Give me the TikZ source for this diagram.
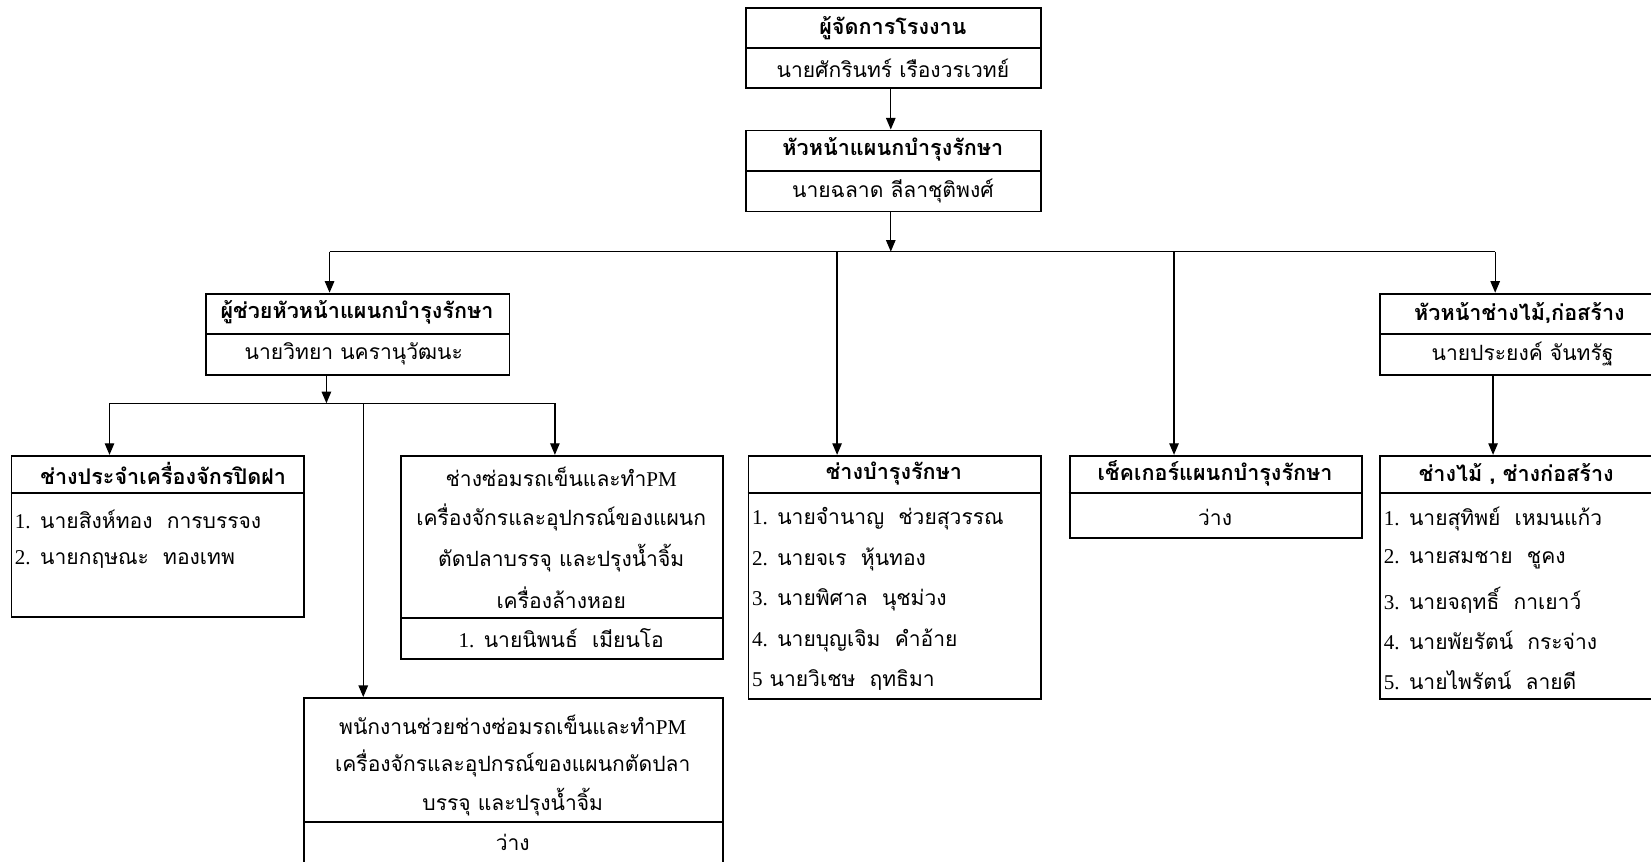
\documentclass[tikz,border=0pt]{standalone}
\usepackage{fontspec}
\setmainfont{Liberation Serif}
\newfontfamily\thai[Script=Thai]{Loma}
\newfontfamily\latf{Liberation Serif}
\usetikzlibrary{arrows.meta}
\newcommand{\thaifs}{\thai\fontsize{20}{24}\selectfont}
\newcommand{\thaihd}{\thai\fontsize{20.5}{24}\selectfont\bfseries}
\newcommand{\lat}[1]{{\latf #1}}
\tikzset{
  box/.style={draw, line width=1.8pt, inner sep=0pt, anchor=north west},
  divl/.style={line width=1.8pt},
  con/.style={line width=1.2pt},
  arr/.style={con, -{Triangle[length=11pt,width=9pt]}},
  hd/.style={font=\thaihd, inner sep=0pt},
  tx/.style={font=\thaifs, inner sep=0pt},
  lt/.style={tx, anchor=west},
}
\begin{document}
\begin{tikzpicture}[x=1pt,y=-1pt]
\useasboundingbox (0,0) rectangle (1568,818);
\clip (0,0) rectangle (1568,818);
\fill[white] (0,0) rectangle (1568,818);

% top boxes
\node[box, minimum width=280pt, minimum height=76pt] (B1) at (708,7) {};
\draw[divl] (708,46) -- (988,46);
\node[hd] (B1h) at (848,27) {ผู้จัดการโรงงาน};
\node[tx] (B1n) at (848,65) {นายศักรินทร์ เรืองวรเวทย์};

\node[box, minimum width=280pt, minimum height=77pt] (B2) at (708,123) {};
\draw[divl] (708,162) -- (988,162);
\node[hd] (B2h) at (848,142) {หัวหน้าแผนกบำรุงรักษา};
\node[tx] (B2n) at (848,181) {นายฉลาด ลีลาชุติพงศ์};

% row 2
\node[box, minimum width=288pt, minimum height=77pt] (L2) at (195,278) {};
\draw[divl] (195,317) -- (483,317);
\node[hd] (L2h) at (339,297) {ผู้ช่วยหัวหน้าแผนกบำรุงรักษา};
\node[tx] (L2n) at (336,336) {นายวิทยา นครานุวัฒนะ};

\node[box, minimum width=280pt, minimum height=77pt] (R2) at (1310,278) {};
\draw[divl] (1310,317) -- (1590,317);
\node[hd] (R2h) at (1443,297) {หัวหน้าช่างไม้,ก่อสร้าง};
\node[tx] (R2n) at (1446,336) {นายประยงค์ จันทรัฐ};

% row 3
\node[box, minimum width=278pt, minimum height=153pt] (A) at (10,432) {};
\draw[divl] (10,468) -- (288,468);
\node[hd] (Ah) at (155,450) {ช่างประจำเครื่องจักรปิดฝา};
\node[lt] (A1) at (14,493) {\lat{1.} นายสิงห์ทอง~~การบรรจง};
\node[lt] (A2) at (14,531) {\lat{2.} นายกฤษณะ~~ทองเทพ};

\node[box, minimum width=306pt, minimum height=193pt] (B) at (380,432) {};
\draw[divl] (380,587) -- (686,587);
\node[tx] (Bt1) at (533,453) {ช่างซ่อมรถเข็นและทำ\lat{PM}};
\node[tx] (Bt2) at (533,491) {เครื่องจักรและอุปกรณ์ของแผนก};
\node[tx] (Bt3) at (533,530) {ตัดปลาบรรจุ และปรุงน้ำจิ้ม};
\node[tx] (Bt4) at (533,568) {เครื่องล้างหอย};
\node[tx] (Bn) at (533,606) {\lat{1.} นายนิพนธ์~~เมียนโอ};

\node[box, minimum width=278pt, minimum height=231pt] (C) at (710,432) {};
\draw[divl] (710,468) -- (988,468);
\node[hd] (Ch) at (849,450) {ช่างบำรุงรักษา};
\node[lt] (C1) at (714,493) {\lat{1.} นายจำนาญ~~ช่วยสุวรรณ};
\node[lt] (C2) at (714,531) {\lat{2.} นายจเร~~หุ้นทอง};
\node[lt] (C3) at (714,570) {\lat{3.} นายพิศาล~~นุชม่วง};
\node[lt] (C4) at (714,608) {\lat{4.} นายบุญเจิม~~คำอ้าย};
\node[lt] (C5) at (714,646) {\lat{5} นายวิเชษ~~ฤทธิมา};

\node[box, minimum width=278pt, minimum height=78pt] (D) at (1015,432) {};
\draw[divl] (1015,468) -- (1293,468);
\node[hd] (Dh) at (1154,450) {เช็คเกอร์แผนกบำรุงรักษา};
\node[tx] (Dn) at (1154,491) {ว่าง};

\node[box, minimum width=280pt, minimum height=231pt] (E) at (1310,432) {};
\draw[divl] (1310,468) -- (1590,468);
\node[hd] (Eh) at (1440,450) {ช่างไม้ , ช่างก่อสร้าง};
\node[lt] (E1) at (1314,493) {\lat{1.} นายสุทิพย์~~เหมนแก้ว};
\node[lt] (E2) at (1314,531) {\lat{2.} นายสมชาย~~ชูคง};
\node[lt] (E3) at (1314,570) {\lat{3.} นายจฤทธิ์~~กาเยาว์};
\node[lt] (E4) at (1314,608) {\lat{4.} นายพัยรัตน์~~กระจ่าง};
\node[lt] (E5) at (1314,646) {\lat{5.} นายไพรัตน์~~ลายดี};

% bottom box
\node[box, minimum width=398pt, minimum height=170pt] (F) at (288,662) {};
\draw[divl] (288,781) -- (686,781);
\node[tx] (Ft1) at (487,688) {พนักงานช่วยช่างซ่อมรถเข็นและทำ\lat{PM}};
\node[tx] (Ft2) at (487,725) {เครื่องจักรและอุปกรณ์ของแผนกตัดปลา};
\node[tx] (Ft3) at (487,762) {บรรจุ และปรุงน้ำจิ้ม};
\node[tx] (Fn) at (487,800) {ว่าง};

% connectors
\coordinate (c0) at (846,239);
\coordinate (hL) at (313,239);
\coordinate (hR) at (1420,239);
\coordinate (h3) at (795,239);
\coordinate (h4) at (1115,239);
\draw[arr] (B1.south -| c0) -- (B2.north -| c0);
\draw[arr] (B2.south -| c0) -- (c0);
\draw[con] (hL) -- (hR);
\draw[arr] (hL) -- (L2.north -| hL);
\draw[arr] (hR) -- (R2.north -| hR);
\draw[arr] (h3) -- (C.north -| h3);
\draw[arr] (h4) -- (D.north -| h4);

\coordinate (k0) at (310,383);
\coordinate (kL) at (104,383);
\coordinate (kR) at (527,383);
\coordinate (kM) at (345,383);
\draw[arr] (L2.south -| k0) -- (k0);
\draw[con] (kL) -- (kR);
\draw[arr] (kL) -- (A.north -| kL);
\draw[arr] (kR) -- (B.north -| kR);
\draw[arr] (kM) -- (F.north -| kM);

\coordinate (r0) at (1418,355);
\draw[arr] (R2.south -| r0) -- (E.north -| r0);
\end{tikzpicture}
\end{document}
